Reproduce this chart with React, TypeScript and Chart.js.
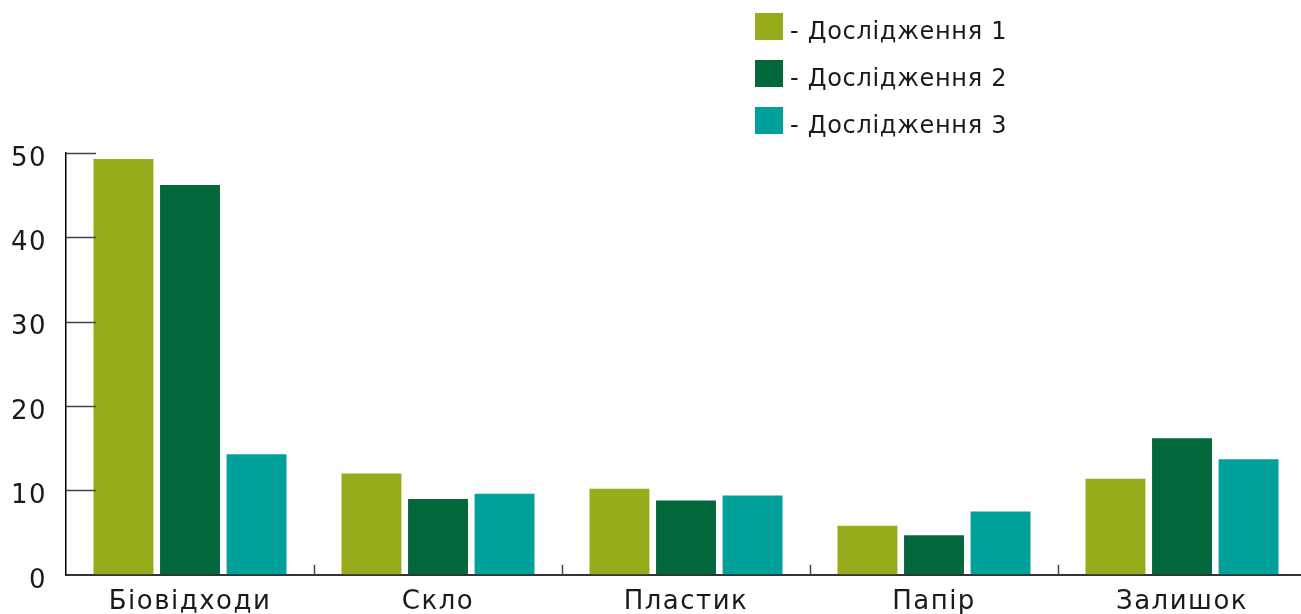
import React, { useEffect, useRef } from "react";
import { Chart, registerables } from "chart.js";

Chart.register(...registerables);

const categories = ["Біовідходи", "Скло", "Пластик", "Папір", "Залишок"];
const seriesLabels = ["Дослідження 1", "Дослідження 2", "Дослідження 3"];
const study1 = [49.3, 12.0, 10.2, 5.8, 11.4];
const study2 = [46.2, 9.0, 8.8, 4.7, 16.2];
const study3 = [14.3, 9.6, 9.4, 7.5, 13.7];
const yTicks = [0, 10, 20, 30, 40, 50];
const colors = ["#98AB1A", "#02673A", "#00A19B"];

const FONT = "'DejaVu Sans', sans-serif";
const TEXT = "#1a1a1a";

const spacing = {
  id: "spacing",
  beforeDraw(chart: any) {
    chart.ctx.letterSpacing = "1.5px";
  },
  afterDraw(chart: any) {
    chart.ctx.letterSpacing = "0px";
  },
};

const innerTicks = {
  id: "innerTicks",
  afterDraw(chart: any) {
    const { ctx, chartArea, scales } = chart;
    const y = scales.y;
    const x = scales.x;
    ctx.save();
    ctx.strokeStyle = "#444";
    ctx.lineWidth = 1.5;
    yTicks.forEach((v) => {
      if (v === 0) return;
      const py = Math.round(y.getPixelForValue(v)) + 0.5;
      ctx.beginPath();
      ctx.moveTo(chartArea.left, py);
      ctx.lineTo(chartArea.left + 30, py);
      ctx.stroke();
    });
    for (let i = 1; i < categories.length; i++) {
      const px = Math.round((x.getPixelForTick(i - 1) + x.getPixelForTick(i)) / 2) + 0.5;
      ctx.beginPath();
      ctx.moveTo(px, chartArea.bottom);
      ctx.lineTo(px, chartArea.bottom - 10);
      ctx.stroke();
    }
    ctx.restore();
  },
};

export default function App() {
  const ref = useRef<HTMLCanvasElement>(null);

  useEffect(() => {
    document.body.style.margin = "0";
    const data = [study1, study2, study3];
    const chart = new Chart(ref.current!, {
      type: "bar",
      data: {
        labels: categories,
        datasets: data.map((d, i) => ({
          label: seriesLabels[i],
          data: d,
          backgroundColor: colors[i],
          borderWidth: 0,
          categoryPercentage: 0.805,
          barPercentage: 0.9,
        })),
      },
      options: {
        animation: false,
        responsive: true,
        maintainAspectRatio: false,
        layout: { padding: { top: 153, right: 4, left: 0, bottom: 0 } },
        plugins: {
          legend: { display: false },
          tooltip: { enabled: false },
        },
        scales: {
          x: {
            grid: { display: true, color: "transparent", drawTicks: false },
            border: { display: true, color: "#333", width: 2 },
            ticks: {
              color: TEXT,
              font: { family: FONT, size: 26 },
              padding: 12,
            },
          },
          y: {
            min: 0,
            max: 50,
            afterBuildTicks: (scale: any) => {
              scale.ticks = yTicks.map((v) => ({ value: v }));
            },
            afterFit: (scale: any) => {
              scale.width = 66;
            },
            grid: { display: true, color: "transparent", drawTicks: false },
            border: { display: true, color: "#000", width: 1.5 },
            ticks: {
              color: TEXT,
              font: { family: FONT, size: 26 },
              padding: 19,
              labelOffset: 6,
            },
          },
        },
      },
      plugins: [spacing, innerTicks],
    });
    return () => chart.destroy();
  }, []);

  return (
    <div
      style={{
        position: "absolute",
        left: 0,
        top: 0,
        width: 1301,
        height: 614,
        overflow: "hidden",
        background: "#fff",
      }}
    >
      <div style={{ position: "relative", width: 1310, height: 630 }}>
        <canvas ref={ref} />
      </div>
      <div
        style={{
          position: "absolute",
          left: 755,
          top: 13,
          fontFamily: FONT,
          fontSize: 24,
          letterSpacing: "0.7px",
          color: TEXT,
        }}
      >
        {seriesLabels.map((l, i) => (
          <div
            key={l}
            style={{ display: "flex", alignItems: "center", height: 27, marginBottom: 20 }}
          >
            <span
              style={{ width: 28, height: 27, background: colors[i], display: "inline-block" }}
            />
            <span style={{ marginLeft: 7, whiteSpace: "nowrap", position: "relative", top: 4 }}>
              - {l}
            </span>
          </div>
        ))}
      </div>
    </div>
  );
}
